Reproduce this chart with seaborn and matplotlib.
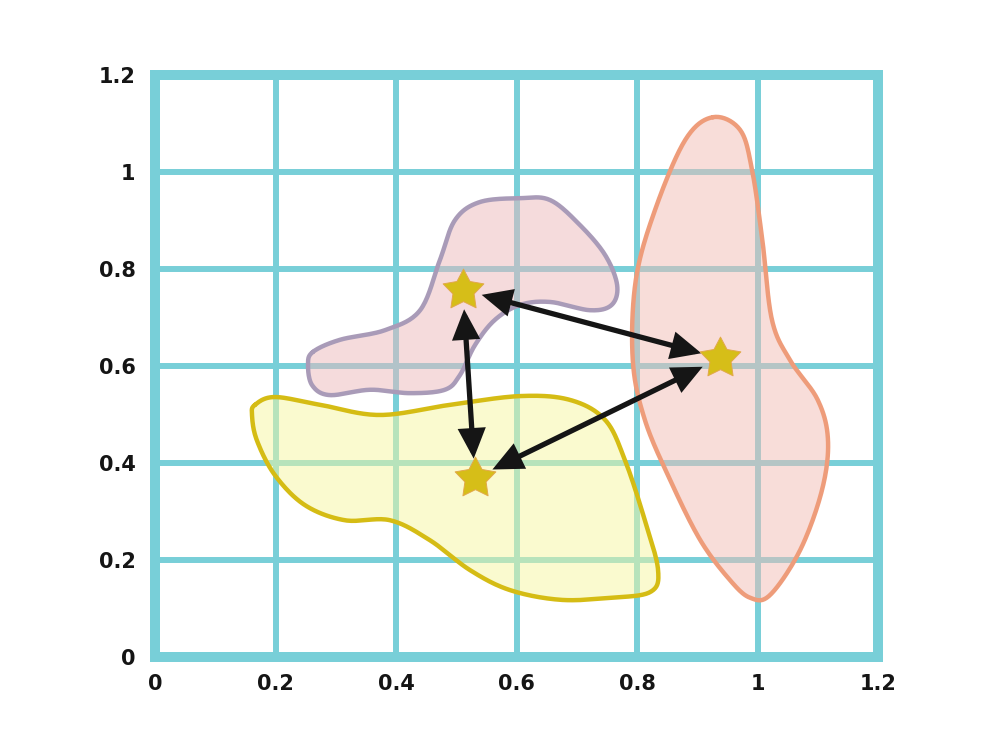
import numpy as np
import pandas as pd
import matplotlib
matplotlib.use("Agg")
import matplotlib.pyplot as plt
from matplotlib.path import Path
import seaborn as sns

# ---- data ----
purple_x = [0.262, 0.307, 0.382, 0.440, 0.473, 0.498, 0.539, 0.606, 0.656, 0.705, 0.747, 0.767,
            0.758, 0.722, 0.656, 0.606, 0.564, 0.531, 0.506, 0.481, 0.423, 0.357, 0.290, 0.261, 0.254]
purple_y = [0.629, 0.654, 0.674, 0.715, 0.819, 0.901, 0.938, 0.946, 0.942, 0.891, 0.829, 0.767,
            0.726, 0.715, 0.732, 0.726, 0.695, 0.643, 0.581, 0.551, 0.544, 0.551, 0.540, 0.560, 0.602]

yellow_x = [0.166, 0.199, 0.274, 0.373, 0.490, 0.606, 0.689, 0.747, 0.780, 0.813, 0.835, 0.822,
            0.755, 0.672, 0.589, 0.523, 0.456, 0.390, 0.315, 0.249, 0.199, 0.169, 0.161]
yellow_y = [0.520, 0.536, 0.520, 0.499, 0.520, 0.538, 0.530, 0.489, 0.406, 0.282, 0.179, 0.134,
            0.122, 0.118, 0.138, 0.179, 0.241, 0.282, 0.282, 0.313, 0.375, 0.447, 0.499]

orange_x = [0.926, 0.971, 0.991, 1.008, 1.024, 1.054, 1.100, 1.117, 1.107, 1.071, 1.021, 0.988,
            0.954, 0.905, 0.855, 0.813, 0.793, 0.798, 0.830, 0.880]
orange_y = [1.113, 1.087, 1.004, 0.860, 0.695, 0.612, 0.530, 0.447, 0.344, 0.221, 0.128, 0.122,
            0.159, 0.241, 0.365, 0.489, 0.612, 0.777, 0.922, 1.066]

centers = ["purple", "orange", "yellow"]
center_x = [0.511, 0.938, 0.531]
center_y = [0.757, 0.616, 0.369]

arrow_pairs = [("purple", "orange"), ("orange", "yellow"), ("yellow", "purple")]

ticks = [0, 0.2, 0.4, 0.6, 0.8, 1.0, 1.2]
tick_labels = ["0", "0.2", "0.4", "0.6", "0.8", "1", "1.2"]

# ---- styles ----
TEAL = "#78CFD8"
blob_styles = {
    "purple": dict(edge="#A99BB8", face="#EDB9BB"),
    "yellow": dict(edge="#D5BC14", face="#F7F7A0"),
    "orange": dict(edge="#EE9C7A", face="#F3BCB4"),
}
STAR = "#D6BE18"


def smooth_closed(x, y, n=20):
    """Periodic Catmull-Rom rendering of a closed outline."""
    p = np.column_stack([x, y])
    m = len(p)
    out = []
    for i in range(m):
        p0, p1, p2, p3 = p[(i - 1) % m], p[i], p[(i + 1) % m], p[(i + 2) % m]
        t = np.linspace(0, 1, n, endpoint=False)[:, None]
        seg = 0.5 * ((2 * p1) + (-p0 + p2) * t + (2 * p0 - 5 * p1 + 4 * p2 - p3) * t ** 2
                     + (-p0 + 3 * p1 - 3 * p2 + p3) * t ** 3)
        out.append(seg)
    out = np.vstack(out + [out[0][:1]])
    return out[:, 0], out[:, 1]


def fat_star(inner=0.52):
    ang = np.pi / 2 + np.arange(10) * np.pi / 5
    r = np.where(np.arange(10) % 2 == 0, 1.0, inner)
    verts = np.column_stack([r * np.cos(ang), r * np.sin(ang)])
    verts = np.vstack([verts, verts[:1]])
    codes = [Path.MOVETO] + [Path.LINETO] * 9 + [Path.CLOSEPOLY]
    return Path(verts, codes)


sns.set_style("white")
fig = plt.figure(figsize=(10, 7.5), dpi=100)
fig.patch.set_facecolor("white")
ax = fig.add_axes([0.155, 0.124, 0.723, 0.776])

ax.set_xlim(0, 1.2)
ax.set_ylim(0, 1.2)
ax.set_axisbelow(True)
ax.grid(True, color=TEAL, lw=4.3, zorder=0)

blobs = {"purple": (purple_x, purple_y), "yellow": (yellow_x, yellow_y), "orange": (orange_x, orange_y)}
for name in ["yellow", "purple", "orange"]:
    bx, by = blobs[name]
    sx, sy = smooth_closed(bx, by)
    st = blob_styles[name]
    ax.fill(sx, sy, color=st["face"], alpha=0.5, lw=0, zorder=1)
    ax.plot(sx, sy, color=st["edge"], lw=3.2, zorder=2, solid_capstyle="round")

pos = {c: (x, y) for c, x, y in zip(centers, center_x, center_y)}
for a, b in arrow_pairs:
    ax.annotate("", xy=pos[b], xytext=pos[a],
                arrowprops=dict(arrowstyle="<|-|>,head_length=0.78,head_width=0.36",
                                mutation_scale=20, joinstyle="miter", capstyle="butt",
                                color="#151515", lw=3.8, shrinkA=14, shrinkB=14),
                zorder=4)

df = pd.DataFrame({"cluster": centers, "x": center_x, "y": center_y})
sns.scatterplot(data=df, x="x", y="y", marker=fat_star(), s=950, color=STAR,
                edgecolor="#E2A84A", linewidth=0.7, ax=ax, zorder=5, legend=False)

ax.set_xticks(ticks)
ax.set_yticks(ticks)
ax.set_xticklabels(tick_labels)
ax.set_yticklabels(tick_labels)
ax.set_xlabel("")
ax.set_ylabel("")
ax.tick_params(length=0, labelsize=15, colors="#151515")
ax.tick_params(axis="x", pad=12)
ax.tick_params(axis="y", pad=14)
for lab in ax.get_xticklabels() + ax.get_yticklabels():
    lab.set_fontweight("bold")
    lab.set_family("DejaVu Sans")

for sp in ax.spines.values():
    sp.set_visible(True)
    sp.set_color(TEAL)
    sp.set_linewidth(7.2)
    sp.set_zorder(6)

fig.savefig("out.png", dpi=100, facecolor="white")
